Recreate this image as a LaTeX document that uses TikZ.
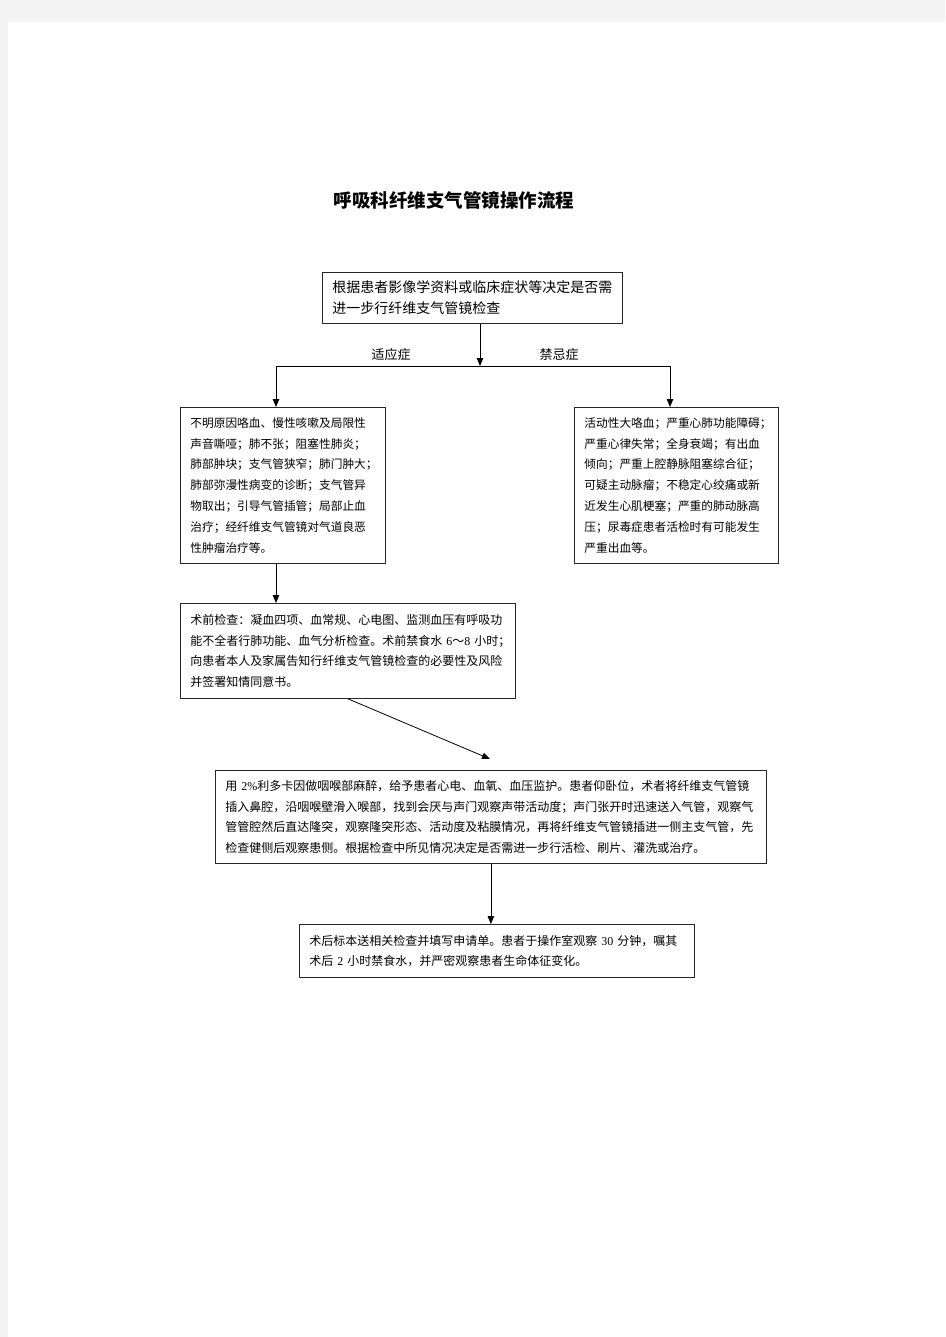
\documentclass[tikz,border=0pt]{standalone}
\usepackage{fontspec}
\setmainfont{Liberation Serif}
\newfontfamily\cjk{Noto Sans CJK SC}
\usetikzlibrary{arrows.meta}
\definecolor{pagegray}{HTML}{F4F4F4}
\newcommand{\latn}[1]{{\rmfamily #1}}
\begin{document}
\begin{tikzpicture}[x=1pt, y=-1pt, >={Triangle[length=8pt,width=6.5pt]},
    line width=0.8pt,
    stepbox/.style={draw=black!85, anchor=north west, align=left, inner xsep=10pt, inner ysep=0pt,
      font={\fontsize{12}{20.7}\cjk}},
    branch/.style={font={\fontsize{13}{15}\cjk}, inner sep=0pt}]
  \fill[pagegray] (0,0) rectangle (945,1337);
  \fill[white] (8,22) rectangle (945,1337);
  \node (title) at (454,200) {\fontsize{18.5}{20}\cjk\bfseries 呼吸科纤维支气管镜操作流程};
  \node (q1) [stepbox, font={\fontsize{14}{21}\cjk}, text width=280pt, minimum height=51pt] at (322,272)
    {根据患者影像学资料或临床症状等决定是否需\\进一步行纤维支气管镜检查};
  \node (indic) [stepbox, font={\fontsize{11.7}{20.9}\cjk}, text width=185pt, minimum height=156pt] at (180,407)
    {不明原因咯血、慢性咳嗽及局限性\\声音嘶哑；肺不张；阻塞性肺炎；\\肺部肿块；支气管狭窄；肺门肿大；\\肺部弥漫性病变的诊断；支气管异\\物取出；引导气管插管；局部止血\\治疗；经纤维支气管镜对气道良恶\\性肿瘤治疗等。};
  \node (contra) [stepbox, font={\fontsize{11.7}{20.9}\cjk}, text width=184pt, minimum height=156pt] at (574,407)
    {活动性大咯血；严重心肺功能障碍；\\严重心律失常；全身衰竭；有出血\\倾向；严重上腔静脉阻塞综合征；\\可疑主动脉瘤；不稳定心绞痛或新\\近发生心肌梗塞；严重的肺动脉高\\压；尿毒症患者活检时有可能发生\\严重出血等。};
  \node (prep) [stepbox, text width=315pt, minimum height=95pt] at (180,603)
    {术前检查：凝血四项、血常规、心电图、监测血压有呼吸功\\能不全者行肺功能、血气分析检查。术前禁食水~\latn{6}～\latn{8}~小时；\\向患者本人及家属告知行纤维支气管镜检查的必要性及风险\\并签署知情同意书。};
  \node (proc) [stepbox, text width=531pt, minimum height=93pt] at (215,770)
    {用~\latn{2\%}利多卡因做咽喉部麻醉，给予患者心电、血氧、血压监护。患者仰卧位，术者将纤维支气管镜\\插入鼻腔，沿咽喉壁滑入喉部，找到会厌与声门观察声带活动度；声门张开时迅速送入气管，观察气\\管管腔然后直达隆突，观察隆突形态、活动度及粘膜情况，再将纤维支气管镜插进一侧主支气管，先\\检查健侧后观察患侧。根据检查中所见情况决定是否需进一步行活检、刷片、灌洗或治疗。};
  \node (post) [stepbox, text width=375pt, minimum height=53pt] at (299,924)
    {术后标本送相关检查并填写申请单。患者于操作室观察~\latn{30}~分钟，嘱其\\术后~\latn{2}~小时禁食水，并严密观察患者生命体征变化。};
  \node (yes) [branch] at (391,355) {适应症};
  \node (no) [branch] at (559,355) {禁忌症};
  \coordinate (fork) at (480,366);
  \coordinate (forkL) at (276,366);
  \coordinate (forkR) at (670,366);
  \coordinate (tip) at (490,759);
  \draw[->] (fork |- q1.south) -- (fork);
  \draw (forkL) -- (forkR);
  \draw[->] (forkL) -- (forkL |- indic.north);
  \draw[->] (forkR) -- (forkR |- contra.north);
  \draw[->] (forkL |- indic.south) -- (forkL |- prep.north);
  \draw[->] (prep.south) -- (tip);
  \draw[->] (proc.south) -- (proc.south |- post.north);
\end{tikzpicture}
\end{document}
